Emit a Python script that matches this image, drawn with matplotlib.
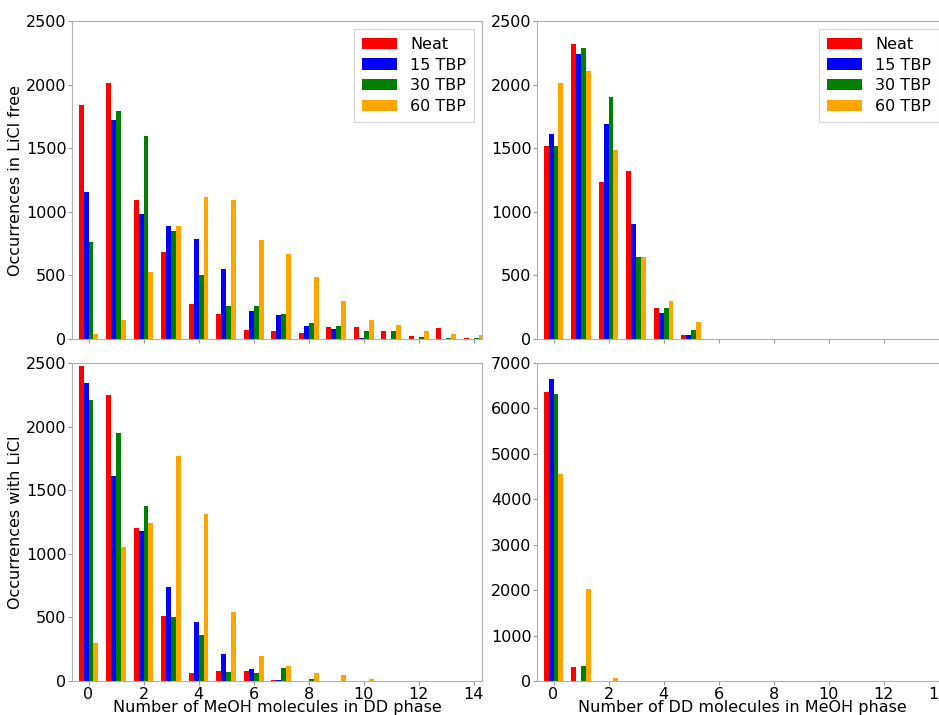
import numpy as np
import matplotlib
matplotlib.use('Agg')
import matplotlib.pyplot as plt

plt.rcParams['font.family'] = ['DejaVu Sans']

series = ['Neat', '15 TBP', '30 TBP', '60 TBP']
colors = ['red', 'blue', 'green', 'orange']
n_meoh = np.arange(15)
n_dd = np.arange(15)

# MeOH molecules in DD phase, LiCl free
free_meoh = {
    'Neat':   [1842, 2010, 1092, 684, 279, 195, 74, 65, 44, 94, 97, 63, 24, 87, 8],
    '15 TBP': [1155, 1718, 979, 887, 787, 553, 218, 192, 102, 78, 8, 0, 0, 0, 0],
    '30 TBP': [766, 1792, 1595, 850, 505, 258, 260, 200, 129, 102, 60, 63, 18, 8, 5],
    '60 TBP': [37, 153, 524, 887, 1113, 1092, 781, 667, 484, 297, 147, 113, 65, 42, 31],
}
# DD molecules in MeOH phase, LiCl free
free_dd = {
    'Neat':   [1516, 2321, 1234, 1324, 242, 34, 0, 0, 0, 0, 0, 0, 0, 0, 0],
    '15 TBP': [1608, 2242, 1689, 903, 205, 29, 0, 0, 0, 0, 0, 0, 0, 0, 0],
    '30 TBP': [1521, 2284, 1905, 647, 245, 71, 0, 0, 0, 0, 0, 0, 0, 0, 0],
    '60 TBP': [2011, 2103, 1484, 647, 295, 134, 0, 0, 0, 0, 0, 0, 0, 0, 0],
}
# MeOH molecules in DD phase, with LiCl
licl_meoh = {
    'Neat':   [2474, 2250, 1200, 512, 60, 76, 76, 10, 0, 0, 0, 0, 0, 0, 0],
    '15 TBP': [2342, 1612, 1179, 741, 460, 210, 95, 10, 0, 3, 0, 0, 0, 0, 0],
    '30 TBP': [2208, 1951, 1373, 504, 362, 71, 65, 105, 13, 0, 0, 0, 0, 0, 0],
    '60 TBP': [297, 1053, 1245, 1770, 1316, 544, 197, 118, 65, 50, 13, 0, 0, 0, 0],
}
# DD molecules in MeOH phase, with LiCl
licl_dd = {
    'Neat':   [6360, 301, 0, 0, 0, 0, 0, 0, 0, 0, 0, 0, 0, 0, 0],
    '15 TBP': [6654, 0, 0, 0, 0, 0, 0, 0, 0, 0, 0, 0, 0, 0, 0],
    '30 TBP': [6309, 338, 0, 0, 0, 0, 0, 0, 0, 0, 0, 0, 0, 0, 0],
    '60 TBP': [4566, 2015, 74, 0, 0, 0, 0, 0, 0, 0, 0, 0, 0, 0, 0],
}

fig = plt.figure(figsize=(9.39, 7.15), dpi=100)
W, H = 939., 715.
w_ax = 410.
ax_tl = fig.add_axes([72 / W, 1 - 339 / H, w_ax / W, 318 / H])
ax_tr = fig.add_axes([537 / W, 1 - 339 / H, w_ax / W, 318 / H])
ax_bl = fig.add_axes([72 / W, 1 - 681 / H, w_ax / W, 318 / H])
ax_br = fig.add_axes([537 / W, 1 - 681 / H, w_ax / W, 318 / H])

width = 0.18
offsets = [-0.27, -0.09, 0.09, 0.27]
fs = 11.5


def draw(ax, x, data, ymax, yticks, show_x, legend):
    for s, c, off in zip(series, colors, offsets):
        ax.bar(x + off, data[s], width, color=c, label=s)
    ax.set_xlim(-0.6, 14.3)
    ax.set_ylim(0, ymax)
    ax.set_yticks(yticks)
    ax.set_xticks(np.arange(0, 15, 2))
    ax.tick_params(labelsize=fs, color='#999999', length=3, pad=1)
    if not show_x:
        ax.tick_params(labelbottom=False)
    for sp in ax.spines.values():
        sp.set_color('#b0b0b0')
    if legend:
        leg = ax.legend(loc='upper right', fontsize=fs, fancybox=False,
                        edgecolor='#cccccc', handlelength=2.2, borderpad=0.5,
                        labelspacing=0.35)
        leg.get_frame().set_linewidth(0.8)


draw(ax_tl, n_meoh, free_meoh, 2500, np.arange(0, 2501, 500), False, True)
draw(ax_tr, n_dd, free_dd, 2500, np.arange(0, 2501, 500), False, True)
draw(ax_bl, n_meoh, licl_meoh, 2500, np.arange(0, 2501, 500), True, False)
draw(ax_br, n_dd, licl_dd, 7000, np.arange(0, 7001, 1000), True, False)

ax_tl.set_ylabel('Occurrences in LiCl free', fontsize=fs, labelpad=2)
ax_bl.set_ylabel('Occurrences with LiCl', fontsize=fs, labelpad=2)
ax_bl.set_xlabel('Number of MeOH molecules in DD phase', fontsize=fs, labelpad=-1)
ax_br.set_xlabel('Number of DD molecules in MeOH phase', fontsize=fs, labelpad=-1)

fig.savefig('out.png', dpi=100)
